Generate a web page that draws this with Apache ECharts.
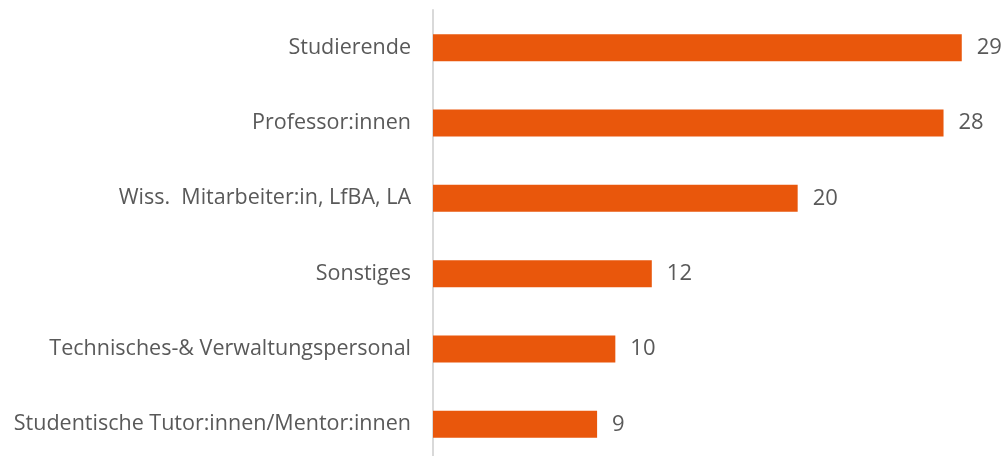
<!DOCTYPE html>
<html>
<head>
<meta charset="utf-8">
<script src="https://cdn.jsdelivr.net/npm/echarts@6/dist/echarts.min.js"></script>
<style>
  html, body { margin: 0; padding: 0; background: #fff; }
  #chart { width: 1008px; height: 456px; }
</style>
</head>
<body>
<div id="chart"></div>
<script>
// categories top to bottom
const categories = [
  'Studierende',
  'Professor:innen',
  'Wiss.  Mitarbeiter:in, LfBA, LA',
  'Sonstiges',
  'Technisches-& Verwaltungspersonal',
  'Studentische Tutor:innen/Mentor:innen'
]
const counts = [29, 28, 20, 12, 10, 9]

const barColor = '#e9570c'
const inkColor = '#595959'
const font = 'Open Sans'

const chart = echarts.init(document.getElementById('chart'))
chart.setOption({
  animation: false,
  grid: { left: 433, top: 10, width: 547, height: 452, outerBoundsMode: 'none' },
  xAxis: {
    type: 'value',
    min: 0,
    max: 30,
    show: false
  },
  yAxis: {
    type: 'category',
    inverse: true,
    data: categories,
    axisLine: { show: true, lineStyle: { color: '#d9d9d9', width: 2 } },
    axisTick: { show: false },
    axisLabel: {
      color: inkColor,
      fontFamily: font,
      fontSize: 21.5,
      margin: 22
    }
  },
  series: [{
    type: 'bar',
    data: counts,
    barWidth: 27,
    itemStyle: { color: barColor },
    label: {
      show: true,
      position: 'right',
      distance: 15,
      color: inkColor,
      fontFamily: font,
      fontSize: 22
    }
  }]
})
</script>
</body>
</html>
